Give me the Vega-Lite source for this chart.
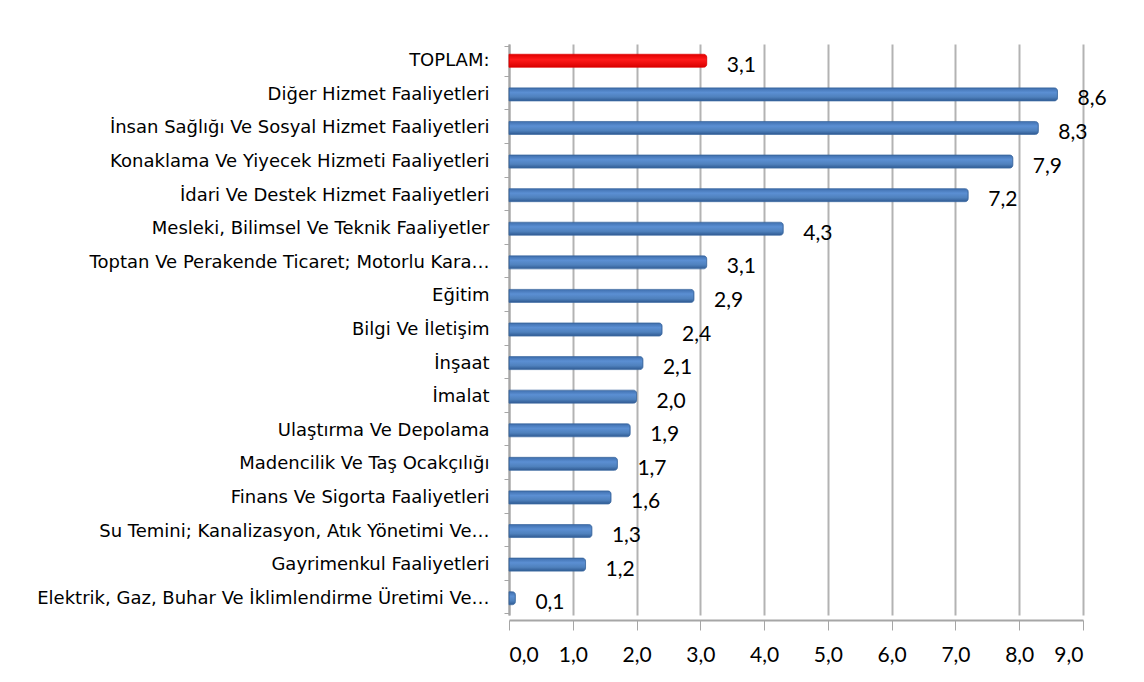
{
  "$schema": "https://vega.github.io/schema/vega-lite/v6.json",
  "width": 574,
  "height": 571,
  "autosize": {"type": "none"},
  "padding": {"left": 509, "top": 44, "right": 61, "bottom": 67},
  "background": "white",
  "config": {
    "locale": {"number": {"decimal": ",", "thousands": ".", "grouping": [3], "currency": ["", " TL"]}},
    "view": {"stroke": null}
  },
  "data": {
    "values": [
      {"sector": "TOPLAM:", "value": 3.1, "total": true},
      {"sector": "Diğer Hizmet Faaliyetleri", "value": 8.6, "total": false},
      {"sector": "İnsan Sağlığı Ve Sosyal Hizmet Faaliyetleri", "value": 8.3, "total": false},
      {"sector": "Konaklama Ve Yiyecek Hizmeti Faaliyetleri", "value": 7.9, "total": false},
      {"sector": "İdari Ve Destek Hizmet Faaliyetleri", "value": 7.2, "total": false},
      {"sector": "Mesleki, Bilimsel Ve Teknik Faaliyetler", "value": 4.3, "total": false},
      {"sector": "Toptan Ve Perakende Ticaret; Motorlu Kara…", "value": 3.1, "total": false},
      {"sector": "Eğitim", "value": 2.9, "total": false},
      {"sector": "Bilgi Ve İletişim", "value": 2.4, "total": false},
      {"sector": "İnşaat", "value": 2.1, "total": false},
      {"sector": "İmalat", "value": 2.0, "total": false},
      {"sector": "Ulaştırma Ve Depolama", "value": 1.9, "total": false},
      {"sector": "Madencilik Ve Taş Ocakçılığı", "value": 1.7, "total": false},
      {"sector": "Finans Ve Sigorta Faaliyetleri", "value": 1.6, "total": false},
      {"sector": "Su Temini; Kanalizasyon, Atık Yönetimi Ve…", "value": 1.3, "total": false},
      {"sector": "Gayrimenkul Faaliyetleri", "value": 1.2, "total": false},
      {"sector": "Elektrik, Gaz, Buhar Ve İklimlendirme Üretimi Ve…", "value": 0.1, "total": false}
    ]
  },
  "encoding": {
    "y": {
      "field": "sector",
      "type": "nominal",
      "scale": {
        "domain": [
          "TOPLAM:",
          "Diğer Hizmet Faaliyetleri",
          "İnsan Sağlığı Ve Sosyal Hizmet Faaliyetleri",
          "Konaklama Ve Yiyecek Hizmeti Faaliyetleri",
          "İdari Ve Destek Hizmet Faaliyetleri",
          "Mesleki, Bilimsel Ve Teknik Faaliyetler",
          "Toptan Ve Perakende Ticaret; Motorlu Kara…",
          "Eğitim",
          "Bilgi Ve İletişim",
          "İnşaat",
          "İmalat",
          "Ulaştırma Ve Depolama",
          "Madencilik Ve Taş Ocakçılığı",
          "Finans Ve Sigorta Faaliyetleri",
          "Su Temini; Kanalizasyon, Atık Yönetimi Ve…",
          "Gayrimenkul Faaliyetleri",
          "Elektrik, Gaz, Buhar Ve İklimlendirme Üretimi Ve…"
        ]
      },
      "title": null,
      "axis": {
        "labelFont": "DejaVu Sans",
        "labelFontSize": 18,
        "labelColor": "#000000",
        "labelLimit": 520,
        "labelPadding": 15,
        "domainColor": "#a6a6a6",
        "domainWidth": 2,
        "tickColor": "#a6a6a6",
        "tickBand": "extent",
        "tickSize": 5,
        "offset": 0
      }
    },
    "x": {
      "field": "value",
      "type": "quantitative",
      "scale": {"domain": [0, 9], "nice": false},
      "title": null,
      "axis": {
        "values": [0, 1, 2, 3, 4, 5, 6, 7, 8, 9],
        "format": ".1f",
        "labelFont": "Lato",
        "labelFontSize": 21,
        "labelColor": "#000000",
        "labelPadding": 14,
        "domainColor": "#a6a6a6",
        "domainWidth": 2,
        "tickColor": "#a6a6a6",
        "tickSize": 10,
        "offset": 5,
        "grid": true,
        "gridColor": "#b3b3b3",
        "gridWidth": 2
      }
    }
  },
  "layer": [
    {
      "transform": [{"filter": "!datum.total"}],
      "mark": {
        "type": "bar",
        "height": 13,
        "cornerRadiusEnd": 3,
        "stroke": "#3a67a0",
        "strokeWidth": 0.8,
        "color": {
          "gradient": "linear",
          "x1": 0, "y1": 0, "x2": 0, "y2": 1,
          "stops": [
            {"offset": 0, "color": "#3f6fae"},
            {"offset": 0.35, "color": "#5b8fd3"},
            {"offset": 0.7, "color": "#4f81bd"},
            {"offset": 1, "color": "#2f5a92"}
          ]
        }
      }
    },
    {
      "transform": [{"filter": "datum.total"}],
      "mark": {
        "type": "bar",
        "height": 13,
        "cornerRadiusEnd": 3,
        "stroke": "#e00000",
        "strokeWidth": 0.8,
        "color": {
          "gradient": "linear",
          "x1": 0, "y1": 0, "x2": 0, "y2": 1,
          "stops": [
            {"offset": 0, "color": "#e00000"},
            {"offset": 0.4, "color": "#ff1a1a"},
            {"offset": 1, "color": "#d80000"}
          ]
        }
      }
    },
    {
      "mark": {
        "type": "text",
        "align": "left",
        "baseline": "middle",
        "dx": 20,
        "dy": 5,
        "font": "Lato",
        "fontSize": 21,
        "color": "#000000"
      },
      "encoding": {
        "text": {"field": "value", "type": "quantitative", "format": ".1f"}
      }
    }
  ]
}
